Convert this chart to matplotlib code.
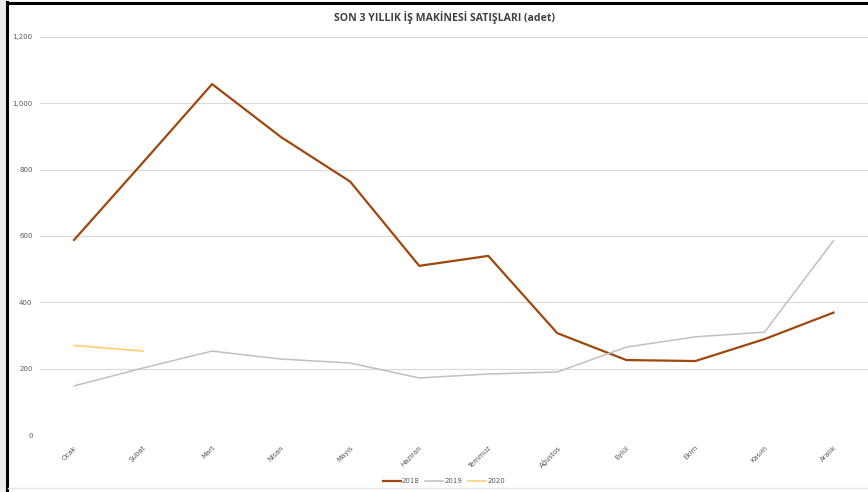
import matplotlib
matplotlib.use("Agg")
import matplotlib.pyplot as plt
from matplotlib.patches import Rectangle
from matplotlib.lines import Line2D

months = ["Ocak", "Şubat", "Mart", "Nisan", "Mayıs", "Haziran", "Temmuz",
          "Ağustos", "Eylül", "Ekim", "Kasım", "Aralık"]
s2018 = [588, 822, 1058, 898, 764, 510, 540, 307, 226, 223, 289, 369]
s2019 = [148, 202, 253, 229, 217, 172, 184, 190, 265, 296, 310, 586]
s2020 = [270, 253]
yticks = [0, 200, 400, 600, 800, 1000, 1200]
ytick_labels = ["0", "200", "400", "600", "800", "1,000", "1,200"]
title = "SON 3 YILLIK İŞ MAKİNESİ SATIŞLARI (adet)"

W, H = 868, 492
fig = plt.figure(figsize=(W / 100, H / 100), dpi=100)
fig.patch.set_facecolor("white")

# screenshot frame
fig.add_artist(Rectangle((0, 0), 6 / W, 1, transform=fig.transFigure,
                         facecolor="#EDEDED", edgecolor="none", zorder=0))
fig.add_artist(Line2D([7 / W, 7 / W], [0, 1 - 2 / H], transform=fig.transFigure,
                      color="black", lw=2.2))
fig.add_artist(Line2D([7 / W, 1], [1 - 2.5 / H, 1 - 2.5 / H], transform=fig.transFigure,
                      color="black", lw=2.2))
fig.add_artist(Line2D([8 / W, 1], [4 / H, 4 / H], transform=fig.transFigure,
                      color="#E6E6E6", lw=1))

left, right = 39.5 / W, 1.0
bottom, top = 1 - 435 / H, 1 - 37 / H
ax = fig.add_axes([left, bottom, right - left, top - bottom])
x = list(range(len(months)))
ax.plot(x, s2018, color="#9E480E", lw=1.6, label="2018", solid_joinstyle="round")
ax.plot(x, s2019, color="#C0C0C0", lw=1.1, label="2019")
ax.plot(x[:len(s2020)], s2020, color="#FFCA6B", lw=1.1, label="2020")

ax.set_xlim(-0.5, len(months) - 0.5)
ax.set_ylim(0, 1200)
ax.set_yticks(yticks)
ax.set_yticklabels(ytick_labels, fontsize=5, color="#595959")
ax.set_xticks(x)
ax.set_xticklabels(months, fontsize=5, color="#595959", rotation=45,
                   ha="right", rotation_mode="anchor")
ax.tick_params(axis="both", length=0)
ax.tick_params(axis="y", pad=5)
ax.tick_params(axis="x", pad=7)
ax.grid(axis="y", color="#D9D9D9", lw=0.8)
ax.set_axisbelow(True)
for s in ax.spines.values():
    s.set_visible(False)

fig.text(445 / W, 1 - 17 / H, title, ha="center", va="center",
         fontsize=7.6, fontweight="bold", color="#404040", family="Open Sans")

fig.legend(loc="center", bbox_to_anchor=(444 / W, 1 - 481 / H), ncol=3,
           frameon=False, fontsize=5, handlelength=2.6, columnspacing=0.8,
           handletextpad=0.2, labelcolor="#595959")

fig.savefig("out.png", dpi=100)
